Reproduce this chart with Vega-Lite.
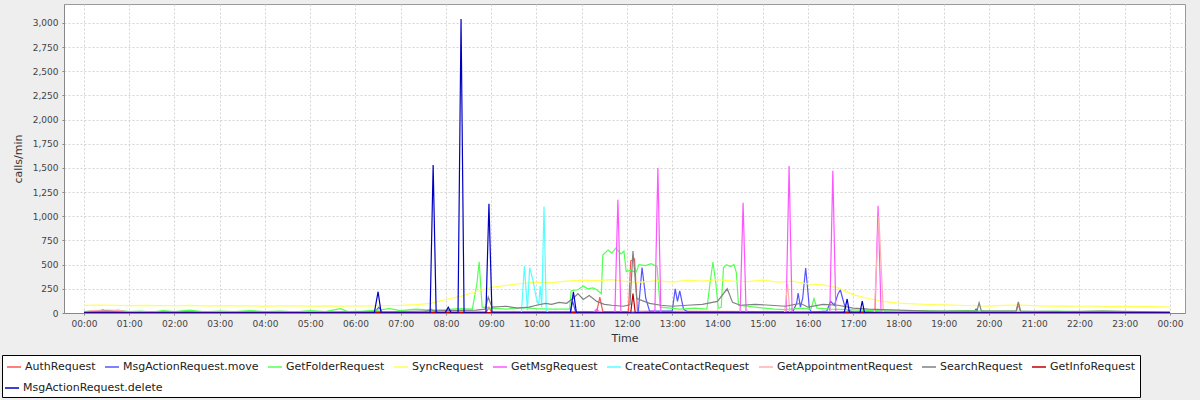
{
"$schema": "https://vega.github.io/schema/vega-lite/v6.json",
"width": 1121, "height": 309,
"autosize": {"type": "none"},
"padding": {"left": 64, "top": 4, "right": 15, "bottom": 87},
"background": "#EEEEEE",
"config": {"font": "DejaVu Sans", "view": {"fill": "white", "stroke": "#999999"}},
"data": {"values": [
{"s":"AuthRequest","m":0,"v":15},{"s":"AuthRequest","m":30,"v":8},{"s":"AuthRequest","m":60,"v":12},{"s":"AuthRequest","m":90,"v":10},{"s":"AuthRequest","m":120,"v":14},{"s":"AuthRequest","m":180,"v":10},{"s":"AuthRequest","m":240,"v":12},{"s":"AuthRequest","m":300,"v":10},{"s":"AuthRequest","m":360,"v":12},{"s":"AuthRequest","m":420,"v":10},{"s":"AuthRequest","m":480,"v":12},{"s":"AuthRequest","m":534,"v":15},{"s":"AuthRequest","m":537,"v":60},{"s":"AuthRequest","m":540,"v":15},{"s":"AuthRequest","m":600,"v":15},{"s":"AuthRequest","m":650,"v":14},{"s":"AuthRequest","m":680,"v":15},{"s":"AuthRequest","m":684,"v":165},{"s":"AuthRequest","m":688,"v":15},{"s":"AuthRequest","m":722,"v":15},{"s":"AuthRequest","m":725,"v":540},{"s":"AuthRequest","m":730,"v":560},{"s":"AuthRequest","m":734,"v":20},{"s":"AuthRequest","m":760,"v":15},{"s":"AuthRequest","m":800,"v":18},{"s":"AuthRequest","m":900,"v":15},{"s":"AuthRequest","m":1000,"v":15},{"s":"AuthRequest","m":1100,"v":12},{"s":"AuthRequest","m":1236,"v":12},{"s":"AuthRequest","m":1239,"v":90},{"s":"AuthRequest","m":1242,"v":12},{"s":"AuthRequest","m":1300,"v":10},{"s":"AuthRequest","m":1440,"v":10},

{"s":"MsgActionRequest.move","m":0,"v":5},{"s":"MsgActionRequest.move","m":100,"v":8},{"s":"MsgActionRequest.move","m":200,"v":3},{"s":"MsgActionRequest.move","m":300,"v":5},{"s":"MsgActionRequest.move","m":385,"v":5},{"s":"MsgActionRequest.move","m":391,"v":60},{"s":"MsgActionRequest.move","m":396,"v":5},{"s":"MsgActionRequest.move","m":450,"v":5},{"s":"MsgActionRequest.move","m":460,"v":40},{"s":"MsgActionRequest.move","m":470,"v":5},{"s":"MsgActionRequest.move","m":560,"v":5},{"s":"MsgActionRequest.move","m":600,"v":8},{"s":"MsgActionRequest.move","m":645,"v":10},{"s":"MsgActionRequest.move","m":648,"v":120},{"s":"MsgActionRequest.move","m":652,"v":10},{"s":"MsgActionRequest.move","m":735,"v":10},{"s":"MsgActionRequest.move","m":740,"v":470},{"s":"MsgActionRequest.move","m":745,"v":150},{"s":"MsgActionRequest.move","m":750,"v":20},{"s":"MsgActionRequest.move","m":780,"v":20},{"s":"MsgActionRequest.move","m":784,"v":250},{"s":"MsgActionRequest.move","m":787,"v":120},{"s":"MsgActionRequest.move","m":790,"v":230},{"s":"MsgActionRequest.move","m":795,"v":40},{"s":"MsgActionRequest.move","m":800,"v":15},{"s":"MsgActionRequest.move","m":940,"v":15},{"s":"MsgActionRequest.move","m":945,"v":100},{"s":"MsgActionRequest.move","m":947,"v":207},{"s":"MsgActionRequest.move","m":950,"v":60},{"s":"MsgActionRequest.move","m":953,"v":150},{"s":"MsgActionRequest.move","m":957,"v":465},{"s":"MsgActionRequest.move","m":959,"v":300},{"s":"MsgActionRequest.move","m":962,"v":40},{"s":"MsgActionRequest.move","m":965,"v":10},{"s":"MsgActionRequest.move","m":985,"v":20},{"s":"MsgActionRequest.move","m":990,"v":120},{"s":"MsgActionRequest.move","m":995,"v":80},{"s":"MsgActionRequest.move","m":1000,"v":200},{"s":"MsgActionRequest.move","m":1003,"v":240},{"s":"MsgActionRequest.move","m":1006,"v":150},{"s":"MsgActionRequest.move","m":1010,"v":40},{"s":"MsgActionRequest.move","m":1020,"v":10},{"s":"MsgActionRequest.move","m":1180,"v":8},{"s":"MsgActionRequest.move","m":1183,"v":40},{"s":"MsgActionRequest.move","m":1186,"v":8},{"s":"MsgActionRequest.move","m":1300,"v":5},{"s":"MsgActionRequest.move","m":1440,"v":5},

{"s":"GetFolderRequest","m":0,"v":15},{"s":"GetFolderRequest","m":15,"v":25},{"s":"GetFolderRequest","m":30,"v":10},{"s":"GetFolderRequest","m":45,"v":30},{"s":"GetFolderRequest","m":60,"v":15},{"s":"GetFolderRequest","m":75,"v":20},{"s":"GetFolderRequest","m":90,"v":10},{"s":"GetFolderRequest","m":105,"v":25},{"s":"GetFolderRequest","m":120,"v":15},{"s":"GetFolderRequest","m":140,"v":30},{"s":"GetFolderRequest","m":160,"v":12},{"s":"GetFolderRequest","m":180,"v":20},{"s":"GetFolderRequest","m":200,"v":15},{"s":"GetFolderRequest","m":220,"v":25},{"s":"GetFolderRequest","m":240,"v":15},{"s":"GetFolderRequest","m":260,"v":20},{"s":"GetFolderRequest","m":280,"v":12},{"s":"GetFolderRequest","m":300,"v":25},{"s":"GetFolderRequest","m":320,"v":15},{"s":"GetFolderRequest","m":340,"v":45},{"s":"GetFolderRequest","m":350,"v":15},{"s":"GetFolderRequest","m":370,"v":20},{"s":"GetFolderRequest","m":390,"v":30},{"s":"GetFolderRequest","m":405,"v":45},{"s":"GetFolderRequest","m":420,"v":25},{"s":"GetFolderRequest","m":440,"v":40},{"s":"GetFolderRequest","m":460,"v":30},{"s":"GetFolderRequest","m":480,"v":35},{"s":"GetFolderRequest","m":500,"v":45},{"s":"GetFolderRequest","m":515,"v":40},{"s":"GetFolderRequest","m":521,"v":300},{"s":"GetFolderRequest","m":524,"v":530},{"s":"GetFolderRequest","m":528,"v":60},{"s":"GetFolderRequest","m":540,"v":50},{"s":"GetFolderRequest","m":560,"v":40},{"s":"GetFolderRequest","m":580,"v":55},{"s":"GetFolderRequest","m":600,"v":45},{"s":"GetFolderRequest","m":620,"v":40},{"s":"GetFolderRequest","m":644,"v":40},{"s":"GetFolderRequest","m":646,"v":230},{"s":"GetFolderRequest","m":655,"v":240},{"s":"GetFolderRequest","m":662,"v":280},{"s":"GetFolderRequest","m":668,"v":250},{"s":"GetFolderRequest","m":675,"v":260},{"s":"GetFolderRequest","m":680,"v":240},{"s":"GetFolderRequest","m":686,"v":200},{"s":"GetFolderRequest","m":688,"v":600},{"s":"GetFolderRequest","m":695,"v":650},{"s":"GetFolderRequest","m":700,"v":620},{"s":"GetFolderRequest","m":705,"v":670},{"s":"GetFolderRequest","m":712,"v":610},{"s":"GetFolderRequest","m":716,"v":640},{"s":"GetFolderRequest","m":719,"v":430},{"s":"GetFolderRequest","m":725,"v":440},{"s":"GetFolderRequest","m":732,"v":420},{"s":"GetFolderRequest","m":736,"v":500},{"s":"GetFolderRequest","m":745,"v":490},{"s":"GetFolderRequest","m":752,"v":510},{"s":"GetFolderRequest","m":760,"v":480},{"s":"GetFolderRequest","m":764,"v":60},{"s":"GetFolderRequest","m":790,"v":40},{"s":"GetFolderRequest","m":810,"v":50},{"s":"GetFolderRequest","m":826,"v":40},{"s":"GetFolderRequest","m":830,"v":300},{"s":"GetFolderRequest","m":834,"v":527},{"s":"GetFolderRequest","m":838,"v":300},{"s":"GetFolderRequest","m":841,"v":50},{"s":"GetFolderRequest","m":845,"v":60},{"s":"GetFolderRequest","m":848,"v":470},{"s":"GetFolderRequest","m":852,"v":500},{"s":"GetFolderRequest","m":857,"v":480},{"s":"GetFolderRequest","m":862,"v":500},{"s":"GetFolderRequest","m":865,"v":420},{"s":"GetFolderRequest","m":868,"v":80},{"s":"GetFolderRequest","m":890,"v":60},{"s":"GetFolderRequest","m":915,"v":40},{"s":"GetFolderRequest","m":930,"v":35},{"s":"GetFolderRequest","m":950,"v":50},{"s":"GetFolderRequest","m":964,"v":40},{"s":"GetFolderRequest","m":968,"v":150},{"s":"GetFolderRequest","m":972,"v":50},{"s":"GetFolderRequest","m":990,"v":40},{"s":"GetFolderRequest","m":1010,"v":35},{"s":"GetFolderRequest","m":1030,"v":30},{"s":"GetFolderRequest","m":1050,"v":25},{"s":"GetFolderRequest","m":1080,"v":20},{"s":"GetFolderRequest","m":1110,"v":25},{"s":"GetFolderRequest","m":1140,"v":20},{"s":"GetFolderRequest","m":1170,"v":25},{"s":"GetFolderRequest","m":1200,"v":20},{"s":"GetFolderRequest","m":1230,"v":20},{"s":"GetFolderRequest","m":1260,"v":15},{"s":"GetFolderRequest","m":1290,"v":20},{"s":"GetFolderRequest","m":1320,"v":15},{"s":"GetFolderRequest","m":1350,"v":20},{"s":"GetFolderRequest","m":1380,"v":15},{"s":"GetFolderRequest","m":1410,"v":15},{"s":"GetFolderRequest","m":1440,"v":10},

{"s":"SyncRequest","m":0,"v":78},{"s":"SyncRequest","m":20,"v":82},{"s":"SyncRequest","m":40,"v":80},{"s":"SyncRequest","m":60,"v":76},{"s":"SyncRequest","m":80,"v":79},{"s":"SyncRequest","m":100,"v":77},{"s":"SyncRequest","m":120,"v":75},{"s":"SyncRequest","m":140,"v":78},{"s":"SyncRequest","m":160,"v":74},{"s":"SyncRequest","m":180,"v":76},{"s":"SyncRequest","m":200,"v":73},{"s":"SyncRequest","m":220,"v":75},{"s":"SyncRequest","m":240,"v":72},{"s":"SyncRequest","m":260,"v":74},{"s":"SyncRequest","m":280,"v":73},{"s":"SyncRequest","m":300,"v":72},{"s":"SyncRequest","m":320,"v":74},{"s":"SyncRequest","m":340,"v":72},{"s":"SyncRequest","m":360,"v":75},{"s":"SyncRequest","m":380,"v":74},{"s":"SyncRequest","m":400,"v":76},{"s":"SyncRequest","m":420,"v":78},{"s":"SyncRequest","m":440,"v":86},{"s":"SyncRequest","m":460,"v":100},{"s":"SyncRequest","m":480,"v":140},{"s":"SyncRequest","m":500,"v":175},{"s":"SyncRequest","m":520,"v":220},{"s":"SyncRequest","m":540,"v":265},{"s":"SyncRequest","m":560,"v":285},{"s":"SyncRequest","m":580,"v":305},{"s":"SyncRequest","m":600,"v":320},{"s":"SyncRequest","m":620,"v":315},{"s":"SyncRequest","m":640,"v":330},{"s":"SyncRequest","m":660,"v":340},{"s":"SyncRequest","m":680,"v":335},{"s":"SyncRequest","m":700,"v":345},{"s":"SyncRequest","m":720,"v":325},{"s":"SyncRequest","m":740,"v":320},{"s":"SyncRequest","m":760,"v":335},{"s":"SyncRequest","m":780,"v":320},{"s":"SyncRequest","m":800,"v":340},{"s":"SyncRequest","m":820,"v":330},{"s":"SyncRequest","m":840,"v":345},{"s":"SyncRequest","m":860,"v":330},{"s":"SyncRequest","m":880,"v":325},{"s":"SyncRequest","m":900,"v":340},{"s":"SyncRequest","m":920,"v":320},{"s":"SyncRequest","m":940,"v":330},{"s":"SyncRequest","m":960,"v":300},{"s":"SyncRequest","m":980,"v":290},{"s":"SyncRequest","m":1000,"v":260},{"s":"SyncRequest","m":1020,"v":190},{"s":"SyncRequest","m":1040,"v":150},{"s":"SyncRequest","m":1060,"v":120},{"s":"SyncRequest","m":1080,"v":103},{"s":"SyncRequest","m":1100,"v":95},{"s":"SyncRequest","m":1120,"v":88},{"s":"SyncRequest","m":1140,"v":83},{"s":"SyncRequest","m":1160,"v":80},{"s":"SyncRequest","m":1180,"v":75},{"s":"SyncRequest","m":1200,"v":72},{"s":"SyncRequest","m":1220,"v":78},{"s":"SyncRequest","m":1240,"v":82},{"s":"SyncRequest","m":1260,"v":76},{"s":"SyncRequest","m":1280,"v":72},{"s":"SyncRequest","m":1300,"v":74},{"s":"SyncRequest","m":1320,"v":70},{"s":"SyncRequest","m":1340,"v":72},{"s":"SyncRequest","m":1360,"v":68},{"s":"SyncRequest","m":1380,"v":70},{"s":"SyncRequest","m":1400,"v":66},{"s":"SyncRequest","m":1420,"v":65},{"s":"SyncRequest","m":1440,"v":60},

{"s":"GetMsgRequest","m":0,"v":3},{"s":"GetMsgRequest","m":20,"v":5},{"s":"GetMsgRequest","m":25,"v":35},{"s":"GetMsgRequest","m":30,"v":5},{"s":"GetMsgRequest","m":90,"v":5},{"s":"GetMsgRequest","m":150,"v":3},{"s":"GetMsgRequest","m":675,"v":3},{"s":"GetMsgRequest","m":680,"v":40},{"s":"GetMsgRequest","m":684,"v":3},{"s":"GetMsgRequest","m":704,"v":3},{"s":"GetMsgRequest","m":708,"v":1170},{"s":"GetMsgRequest","m":712,"v":3},{"s":"GetMsgRequest","m":757,"v":3},{"s":"GetMsgRequest","m":761,"v":1500},{"s":"GetMsgRequest","m":765,"v":3},{"s":"GetMsgRequest","m":870,"v":3},{"s":"GetMsgRequest","m":874,"v":1140},{"s":"GetMsgRequest","m":878,"v":3},{"s":"GetMsgRequest","m":931,"v":3},{"s":"GetMsgRequest","m":935,"v":1520},{"s":"GetMsgRequest","m":939,"v":3},{"s":"GetMsgRequest","m":989,"v":3},{"s":"GetMsgRequest","m":993,"v":1470},{"s":"GetMsgRequest","m":997,"v":3},{"s":"GetMsgRequest","m":1049,"v":3},{"s":"GetMsgRequest","m":1053,"v":1110},{"s":"GetMsgRequest","m":1057,"v":3},{"s":"GetMsgRequest","m":1440,"v":3},

{"s":"CreateContactRequest","m":0,"v":0},{"s":"CreateContactRequest","m":580,"v":0},{"s":"CreateContactRequest","m":584,"v":486},{"s":"CreateContactRequest","m":588,"v":30},{"s":"CreateContactRequest","m":591,"v":470},{"s":"CreateContactRequest","m":595,"v":350},{"s":"CreateContactRequest","m":600,"v":150},{"s":"CreateContactRequest","m":603,"v":80},{"s":"CreateContactRequest","m":605,"v":280},{"s":"CreateContactRequest","m":607,"v":60},{"s":"CreateContactRequest","m":610,"v":1100},{"s":"CreateContactRequest","m":613,"v":30},{"s":"CreateContactRequest","m":616,"v":0},{"s":"CreateContactRequest","m":1440,"v":0},

{"s":"GetAppointmentRequest","m":0,"v":5},{"s":"GetAppointmentRequest","m":10,"v":25},{"s":"GetAppointmentRequest","m":30,"v":30},{"s":"GetAppointmentRequest","m":50,"v":25},{"s":"GetAppointmentRequest","m":60,"v":5},{"s":"GetAppointmentRequest","m":120,"v":5},{"s":"GetAppointmentRequest","m":929,"v":5},{"s":"GetAppointmentRequest","m":933,"v":300},{"s":"GetAppointmentRequest","m":936,"v":5},{"s":"GetAppointmentRequest","m":1048,"v":5},{"s":"GetAppointmentRequest","m":1054,"v":1000},{"s":"GetAppointmentRequest","m":1060,"v":5},{"s":"GetAppointmentRequest","m":1440,"v":5},

{"s":"SearchRequest","m":0,"v":10},{"s":"SearchRequest","m":30,"v":20},{"s":"SearchRequest","m":60,"v":8},{"s":"SearchRequest","m":120,"v":10},{"s":"SearchRequest","m":180,"v":8},{"s":"SearchRequest","m":240,"v":10},{"s":"SearchRequest","m":300,"v":8},{"s":"SearchRequest","m":360,"v":12},{"s":"SearchRequest","m":420,"v":15},{"s":"SearchRequest","m":480,"v":25},{"s":"SearchRequest","m":520,"v":30},{"s":"SearchRequest","m":532,"v":40},{"s":"SearchRequest","m":536,"v":165},{"s":"SearchRequest","m":541,"v":60},{"s":"SearchRequest","m":560,"v":70},{"s":"SearchRequest","m":575,"v":50},{"s":"SearchRequest","m":590,"v":60},{"s":"SearchRequest","m":600,"v":80},{"s":"SearchRequest","m":612,"v":100},{"s":"SearchRequest","m":620,"v":90},{"s":"SearchRequest","m":630,"v":110},{"s":"SearchRequest","m":640,"v":100},{"s":"SearchRequest","m":650,"v":160},{"s":"SearchRequest","m":655,"v":200},{"s":"SearchRequest","m":662,"v":140},{"s":"SearchRequest","m":670,"v":180},{"s":"SearchRequest","m":680,"v":120},{"s":"SearchRequest","m":690,"v":90},{"s":"SearchRequest","m":700,"v":80},{"s":"SearchRequest","m":715,"v":70},{"s":"SearchRequest","m":724,"v":85},{"s":"SearchRequest","m":728,"v":640},{"s":"SearchRequest","m":733,"v":150},{"s":"SearchRequest","m":750,"v":100},{"s":"SearchRequest","m":765,"v":80},{"s":"SearchRequest","m":780,"v":70},{"s":"SearchRequest","m":800,"v":80},{"s":"SearchRequest","m":820,"v":90},{"s":"SearchRequest","m":840,"v":120},{"s":"SearchRequest","m":853,"v":250},{"s":"SearchRequest","m":860,"v":110},{"s":"SearchRequest","m":870,"v":80},{"s":"SearchRequest","m":890,"v":90},{"s":"SearchRequest","m":910,"v":80},{"s":"SearchRequest","m":930,"v":70},{"s":"SearchRequest","m":950,"v":100},{"s":"SearchRequest","m":960,"v":60},{"s":"SearchRequest","m":980,"v":90},{"s":"SearchRequest","m":1000,"v":80},{"s":"SearchRequest","m":1020,"v":50},{"s":"SearchRequest","m":1040,"v":40},{"s":"SearchRequest","m":1060,"v":35},{"s":"SearchRequest","m":1080,"v":30},{"s":"SearchRequest","m":1100,"v":25},{"s":"SearchRequest","m":1120,"v":20},{"s":"SearchRequest","m":1140,"v":20},{"s":"SearchRequest","m":1184,"v":20},{"s":"SearchRequest","m":1187,"v":105},{"s":"SearchRequest","m":1190,"v":20},{"s":"SearchRequest","m":1236,"v":20},{"s":"SearchRequest","m":1239,"v":115},{"s":"SearchRequest","m":1242,"v":20},{"s":"SearchRequest","m":1300,"v":15},{"s":"SearchRequest","m":1350,"v":20},{"s":"SearchRequest","m":1400,"v":15},{"s":"SearchRequest","m":1440,"v":10},

{"s":"GetInfoRequest","m":0,"v":3},{"s":"GetInfoRequest","m":400,"v":3},{"s":"GetInfoRequest","m":725,"v":3},{"s":"GetInfoRequest","m":728,"v":200},{"s":"GetInfoRequest","m":731,"v":3},{"s":"GetInfoRequest","m":1440,"v":3},

{"s":"MsgActionRequest.delete","m":0,"v":2},{"s":"MsgActionRequest.delete","m":385,"v":2},{"s":"MsgActionRequest.delete","m":390,"v":220},{"s":"MsgActionRequest.delete","m":394,"v":2},{"s":"MsgActionRequest.delete","m":459,"v":2},{"s":"MsgActionRequest.delete","m":463,"v":1530},{"s":"MsgActionRequest.delete","m":467,"v":2},{"s":"MsgActionRequest.delete","m":479,"v":2},{"s":"MsgActionRequest.delete","m":483,"v":60},{"s":"MsgActionRequest.delete","m":487,"v":2},{"s":"MsgActionRequest.delete","m":496,"v":2},{"s":"MsgActionRequest.delete","m":500,"v":3040},{"s":"MsgActionRequest.delete","m":504,"v":2},{"s":"MsgActionRequest.delete","m":533,"v":2},{"s":"MsgActionRequest.delete","m":537,"v":1130},{"s":"MsgActionRequest.delete","m":541,"v":2},{"s":"MsgActionRequest.delete","m":645,"v":2},{"s":"MsgActionRequest.delete","m":649,"v":220},{"s":"MsgActionRequest.delete","m":653,"v":2},{"s":"MsgActionRequest.delete","m":1008,"v":2},{"s":"MsgActionRequest.delete","m":1012,"v":145},{"s":"MsgActionRequest.delete","m":1015,"v":2},{"s":"MsgActionRequest.delete","m":1029,"v":2},{"s":"MsgActionRequest.delete","m":1032,"v":124},{"s":"MsgActionRequest.delete","m":1035,"v":2},{"s":"MsgActionRequest.delete","m":1440,"v":2}
]},
"encoding": {
"x": {"field": "m", "type": "quantitative", "title": "Time",
  "scale": {"domain": [-26.5, 1460], "nice": false, "zero": false},
  "axis": {"values": [0,60,120,180,240,300,360,420,480,540,600,660,720,780,840,900,960,1020,1080,1140,1200,1260,1320,1380,1440],
    "labelExpr": "(floor(datum.value/60)%24 < 10 ? '0' : '') + (floor(datum.value/60)%24) + ':00'",
    "labelFontSize": 9, "labelColor": "#444444", "labelPadding": 4,
    "tickSize": 2, "tickColor": "#888888", "domainColor": "#888888",
    "grid": true, "gridColor": "#d4d4d4", "gridDash": [2, 2],
    "titleFontSize": 11, "titleFontWeight": "normal", "titleColor": "#333333", "titlePadding": 4, "labelFlush": false}},
"y": {"field": "v", "type": "quantitative", "title": "calls/min",
  "scale": {"domain": [0, 3195], "nice": false},
  "axis": {"values": [0,250,500,750,1000,1250,1500,1750,2000,2250,2500,2750,3000], "format": ",d",
    "labelFontSize": 9, "labelColor": "#444444", "labelPadding": 4,
    "tickSize": 2, "tickColor": "#888888", "domainColor": "#888888",
    "grid": true, "gridColor": "#d4d4d4", "gridDash": [2, 2],
    "titleFontSize": 11, "titleFontWeight": "normal", "titleColor": "#333333", "titlePadding": 9}}
},
"layer": [
{"transform": [{"filter": "datum.s != 'MsgActionRequest.delete'"}],
 "mark": {"type": "line", "strokeWidth": 1.2, "clip": true},
 "encoding": {"color": {"field": "s", "type": "nominal",
  "scale": {"domain": ["AuthRequest","MsgActionRequest.move","GetFolderRequest","SyncRequest","GetMsgRequest","CreateContactRequest","GetAppointmentRequest","SearchRequest","GetInfoRequest"],
    "range": ["#FF5555","#5555FF","#55FF55","#FFFF55","#FF55FF","#55FFFF","#FFAFAF","#808080","#C00000"]},
  "legend": {"title": " ", "titleOrient": "bottom", "titleFontSize": 11, "titlePadding": 10, "titleAnchor": "start",
    "orient": "none", "legendX": -62, "legendY": 351, "direction": "horizontal",
    "symbolType": "stroke", "symbolSize": 196, "symbolStrokeWidth": 1.5, "labelFontSize": 11, "labelColor": "#222222", "labelOffset": 3,
    "columnPadding": 6, "fillColor": "white", "strokeColor": "black", "padding": 4, "cornerRadius": 0, "labelLimit": 400}}}},
{"transform": [{"filter": "datum.s == 'MsgActionRequest.delete'"}],
 "mark": {"type": "line", "strokeWidth": 1.2, "clip": true},
 "encoding": {"color": {"field": "s", "type": "nominal",
  "scale": {"domain": ["MsgActionRequest.delete"], "range": ["#0000C0"]},
  "legend": {"title": null, "orient": "none", "legendX": -60, "legendY": 376, "direction": "horizontal",
    "symbolType": "stroke", "symbolSize": 196, "symbolStrokeWidth": 1.5, "labelFontSize": 11, "labelColor": "#222222", "labelOffset": 3,
    "padding": 0, "labelLimit": 400}}}}
],
"resolve": {"scale": {"color": "independent"}, "legend": {"color": "independent"}}
}
